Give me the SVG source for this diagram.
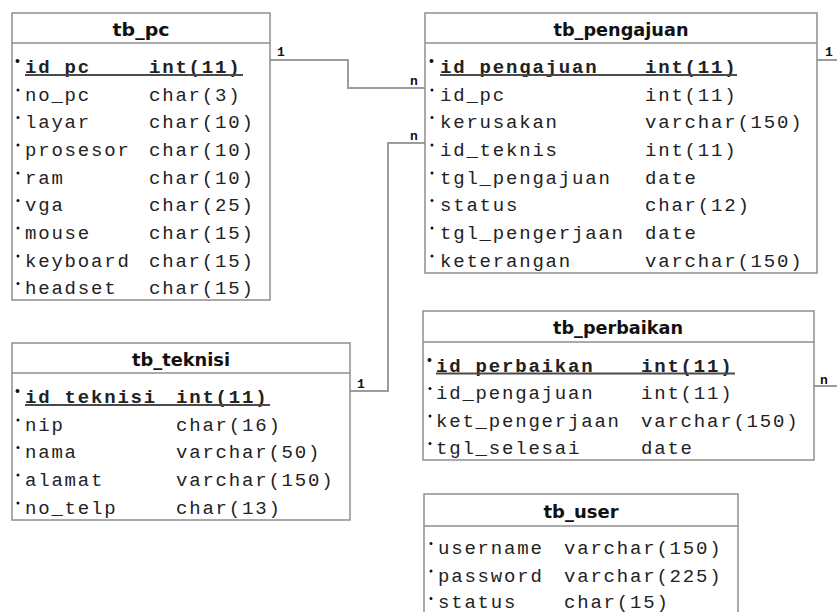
<svg xmlns="http://www.w3.org/2000/svg" width="837" height="612" viewBox="0 0 837 612">
<style>
.box{fill:#fff;stroke:#8e8e8e;stroke-width:1.5}
.sep{stroke:#8e8e8e;stroke-width:1.5}
.title{font-family:"DejaVu Sans",Verdana,sans-serif;font-weight:bold;font-size:17px;fill:#111;text-anchor:middle}
.f{font-family:"Liberation Mono","Courier New",monospace;font-size:19px;letter-spacing:1.8px;fill:#222}
.pk{font-weight:bold}
.ul{stroke:#4a4a4a;stroke-width:2}
.dot{fill:#111}
.conn{fill:none;stroke:#9c9c9c;stroke-width:2}
.lbl{font-family:"Liberation Mono","Courier New",monospace;font-size:13px;font-weight:bold;fill:#111}
</style>

<g id="connectors">
  <path class="conn" d="M270,60 H348 V88 H425"/>
  <path class="conn" d="M350,391 H388 V143 H425"/>
  <path class="conn" d="M817,60 H837"/>
  <path class="conn" d="M814,386 H837"/>
  <text class="lbl" x="277" y="56">1</text>
  <text class="lbl" x="410" y="85">n</text>
  <text class="lbl" x="357" y="388">1</text>
  <text class="lbl" x="410" y="140">n</text>
  <text class="lbl" x="825" y="56">1</text>
  <text class="lbl" x="820" y="384">n</text>
</g>

<g id="tb_pc">
  <rect class="box" x="12" y="13" width="258" height="287"/>
  <line class="sep" x1="12" y1="43" x2="270" y2="43"/>
  <text class="title" x="141" y="36" textLength="57" lengthAdjust="spacingAndGlyphs">tb_pc</text>
  <circle class="dot" cx="17.5" cy="61" r="2"/>
  <text class="f pk" x="25" y="73">id_pc</text><text class="f pk" x="149" y="73">int(11)</text>
  <line class="ul" x1="25" y1="75" x2="243" y2="75"/>
  <circle class="dot" cx="18" cy="90" r="1.5"/><text class="f" x="25" y="100.7">no_pc</text><text class="f" x="149" y="100.7">char(3)</text>
  <circle class="dot" cx="18" cy="117.5" r="1.5"/><text class="f" x="25" y="128.3">layar</text><text class="f" x="149" y="128.3">char(10)</text>
  <circle class="dot" cx="18" cy="145" r="1.5"/><text class="f" x="25" y="156">prosesor</text><text class="f" x="149" y="156">char(10)</text>
  <circle class="dot" cx="18" cy="173" r="1.5"/><text class="f" x="25" y="183.6">ram</text><text class="f" x="149" y="183.6">char(10)</text>
  <circle class="dot" cx="18" cy="200.5" r="1.5"/><text class="f" x="25" y="211.3">vga</text><text class="f" x="149" y="211.3">char(25)</text>
  <circle class="dot" cx="18" cy="228" r="1.5"/><text class="f" x="25" y="238.9">mouse</text><text class="f" x="149" y="238.9">char(15)</text>
  <circle class="dot" cx="18" cy="256" r="1.5"/><text class="f" x="25" y="266.6">keyboard</text><text class="f" x="149" y="266.6">char(15)</text>
  <circle class="dot" cx="18" cy="283.5" r="1.5"/><text class="f" x="25" y="294.2">headset</text><text class="f" x="149" y="294.2">char(15)</text>
</g>

<g id="tb_pengajuan">
  <rect class="box" x="425" y="13" width="392" height="260"/>
  <line class="sep" x1="425" y1="43" x2="817" y2="43"/>
  <text class="title" x="621" y="36" textLength="135" lengthAdjust="spacingAndGlyphs">tb_pengajuan</text>
  <circle class="dot" cx="431.5" cy="61" r="2"/>
  <text class="f pk" x="440" y="73">id_pengajuan</text><text class="f pk" x="645" y="73">int(11)</text>
  <line class="ul" x1="440" y1="75" x2="737" y2="75"/>
  <circle class="dot" cx="432" cy="90" r="1.5"/><text class="f" x="440" y="100.7">id_pc</text><text class="f" x="645" y="100.7">int(11)</text>
  <circle class="dot" cx="432" cy="117.5" r="1.5"/><text class="f" x="440" y="128.3">kerusakan</text><text class="f" x="645" y="128.3">varchar(150)</text>
  <circle class="dot" cx="432" cy="145" r="1.5"/><text class="f" x="440" y="156">id_teknis</text><text class="f" x="645" y="156">int(11)</text>
  <circle class="dot" cx="432" cy="173" r="1.5"/><text class="f" x="440" y="183.6">tgl_pengajuan</text><text class="f" x="645" y="183.6">date</text>
  <circle class="dot" cx="432" cy="200.5" r="1.5"/><text class="f" x="440" y="211.3">status</text><text class="f" x="645" y="211.3">char(12)</text>
  <circle class="dot" cx="432" cy="228" r="1.5"/><text class="f" x="440" y="238.9">tgl_pengerjaan</text><text class="f" x="645" y="238.9">date</text>
  <circle class="dot" cx="432" cy="256" r="1.5"/><text class="f" x="440" y="266.6">keterangan</text><text class="f" x="645" y="266.6">varchar(150)</text>
</g>

<g id="tb_teknisi">
  <rect class="box" x="12" y="343" width="338" height="177"/>
  <line class="sep" x1="12" y1="373" x2="350" y2="373"/>
  <text class="title" x="181" y="366" textLength="98" lengthAdjust="spacingAndGlyphs">tb_teknisi</text>
  <circle class="dot" cx="17.5" cy="391" r="2"/>
  <text class="f pk" x="25" y="403">id_teknisi</text><text class="f pk" x="176" y="403">int(11)</text>
  <line class="ul" x1="25" y1="405" x2="270" y2="405"/>
  <circle class="dot" cx="18" cy="420" r="1.5"/><text class="f" x="25" y="430.7">nip</text><text class="f" x="176" y="430.7">char(16)</text>
  <circle class="dot" cx="18" cy="447.5" r="1.5"/><text class="f" x="25" y="458.3">nama</text><text class="f" x="176" y="458.3">varchar(50)</text>
  <circle class="dot" cx="18" cy="475" r="1.5"/><text class="f" x="25" y="486">alamat</text><text class="f" x="176" y="486">varchar(150)</text>
  <circle class="dot" cx="18" cy="503" r="1.5"/><text class="f" x="25" y="513.6">no_telp</text><text class="f" x="176" y="513.6">char(13)</text>
</g>

<g id="tb_perbaikan">
  <rect class="box" x="423" y="311" width="391" height="149"/>
  <line class="sep" x1="423" y1="342" x2="814" y2="342"/>
  <text class="title" x="618" y="334" textLength="130" lengthAdjust="spacingAndGlyphs">tb_perbaikan</text>
  <circle class="dot" cx="429.5" cy="360" r="2"/>
  <text class="f pk" x="436" y="371.5">id_perbaikan</text><text class="f pk" x="641" y="371.5">int(11)</text>
  <line class="ul" x1="436" y1="373.5" x2="735" y2="373.5"/>
  <circle class="dot" cx="430" cy="388.5" r="1.5"/><text class="f" x="436" y="399">id_pengajuan</text><text class="f" x="641" y="399">int(11)</text>
  <circle class="dot" cx="430" cy="416" r="1.5"/><text class="f" x="436" y="426.7">ket_pengerjaan</text><text class="f" x="641" y="426.7">varchar(150)</text>
  <circle class="dot" cx="430" cy="443.5" r="1.5"/><text class="f" x="436" y="454.3">tgl_selesai</text><text class="f" x="641" y="454.3">date</text>
</g>

<g id="tb_user">
  <rect class="box" x="424" y="494" width="314" height="124"/>
  <line class="sep" x1="424" y1="526" x2="738" y2="526"/>
  <text class="title" x="581" y="518" textLength="75" lengthAdjust="spacingAndGlyphs">tb_user</text>
  <circle class="dot" cx="431" cy="543.5" r="1.5"/><text class="f" x="438" y="554">username</text><text class="f" x="564" y="554">varchar(150)</text>
  <circle class="dot" cx="431" cy="571" r="1.5"/><text class="f" x="438" y="581.6">password</text><text class="f" x="564" y="581.6">varchar(225)</text>
  <circle class="dot" cx="431" cy="598.5" r="1.5"/><text class="f" x="438" y="607.5">status</text><text class="f" x="564" y="607.5">char(15)</text>
</g>
</svg>
